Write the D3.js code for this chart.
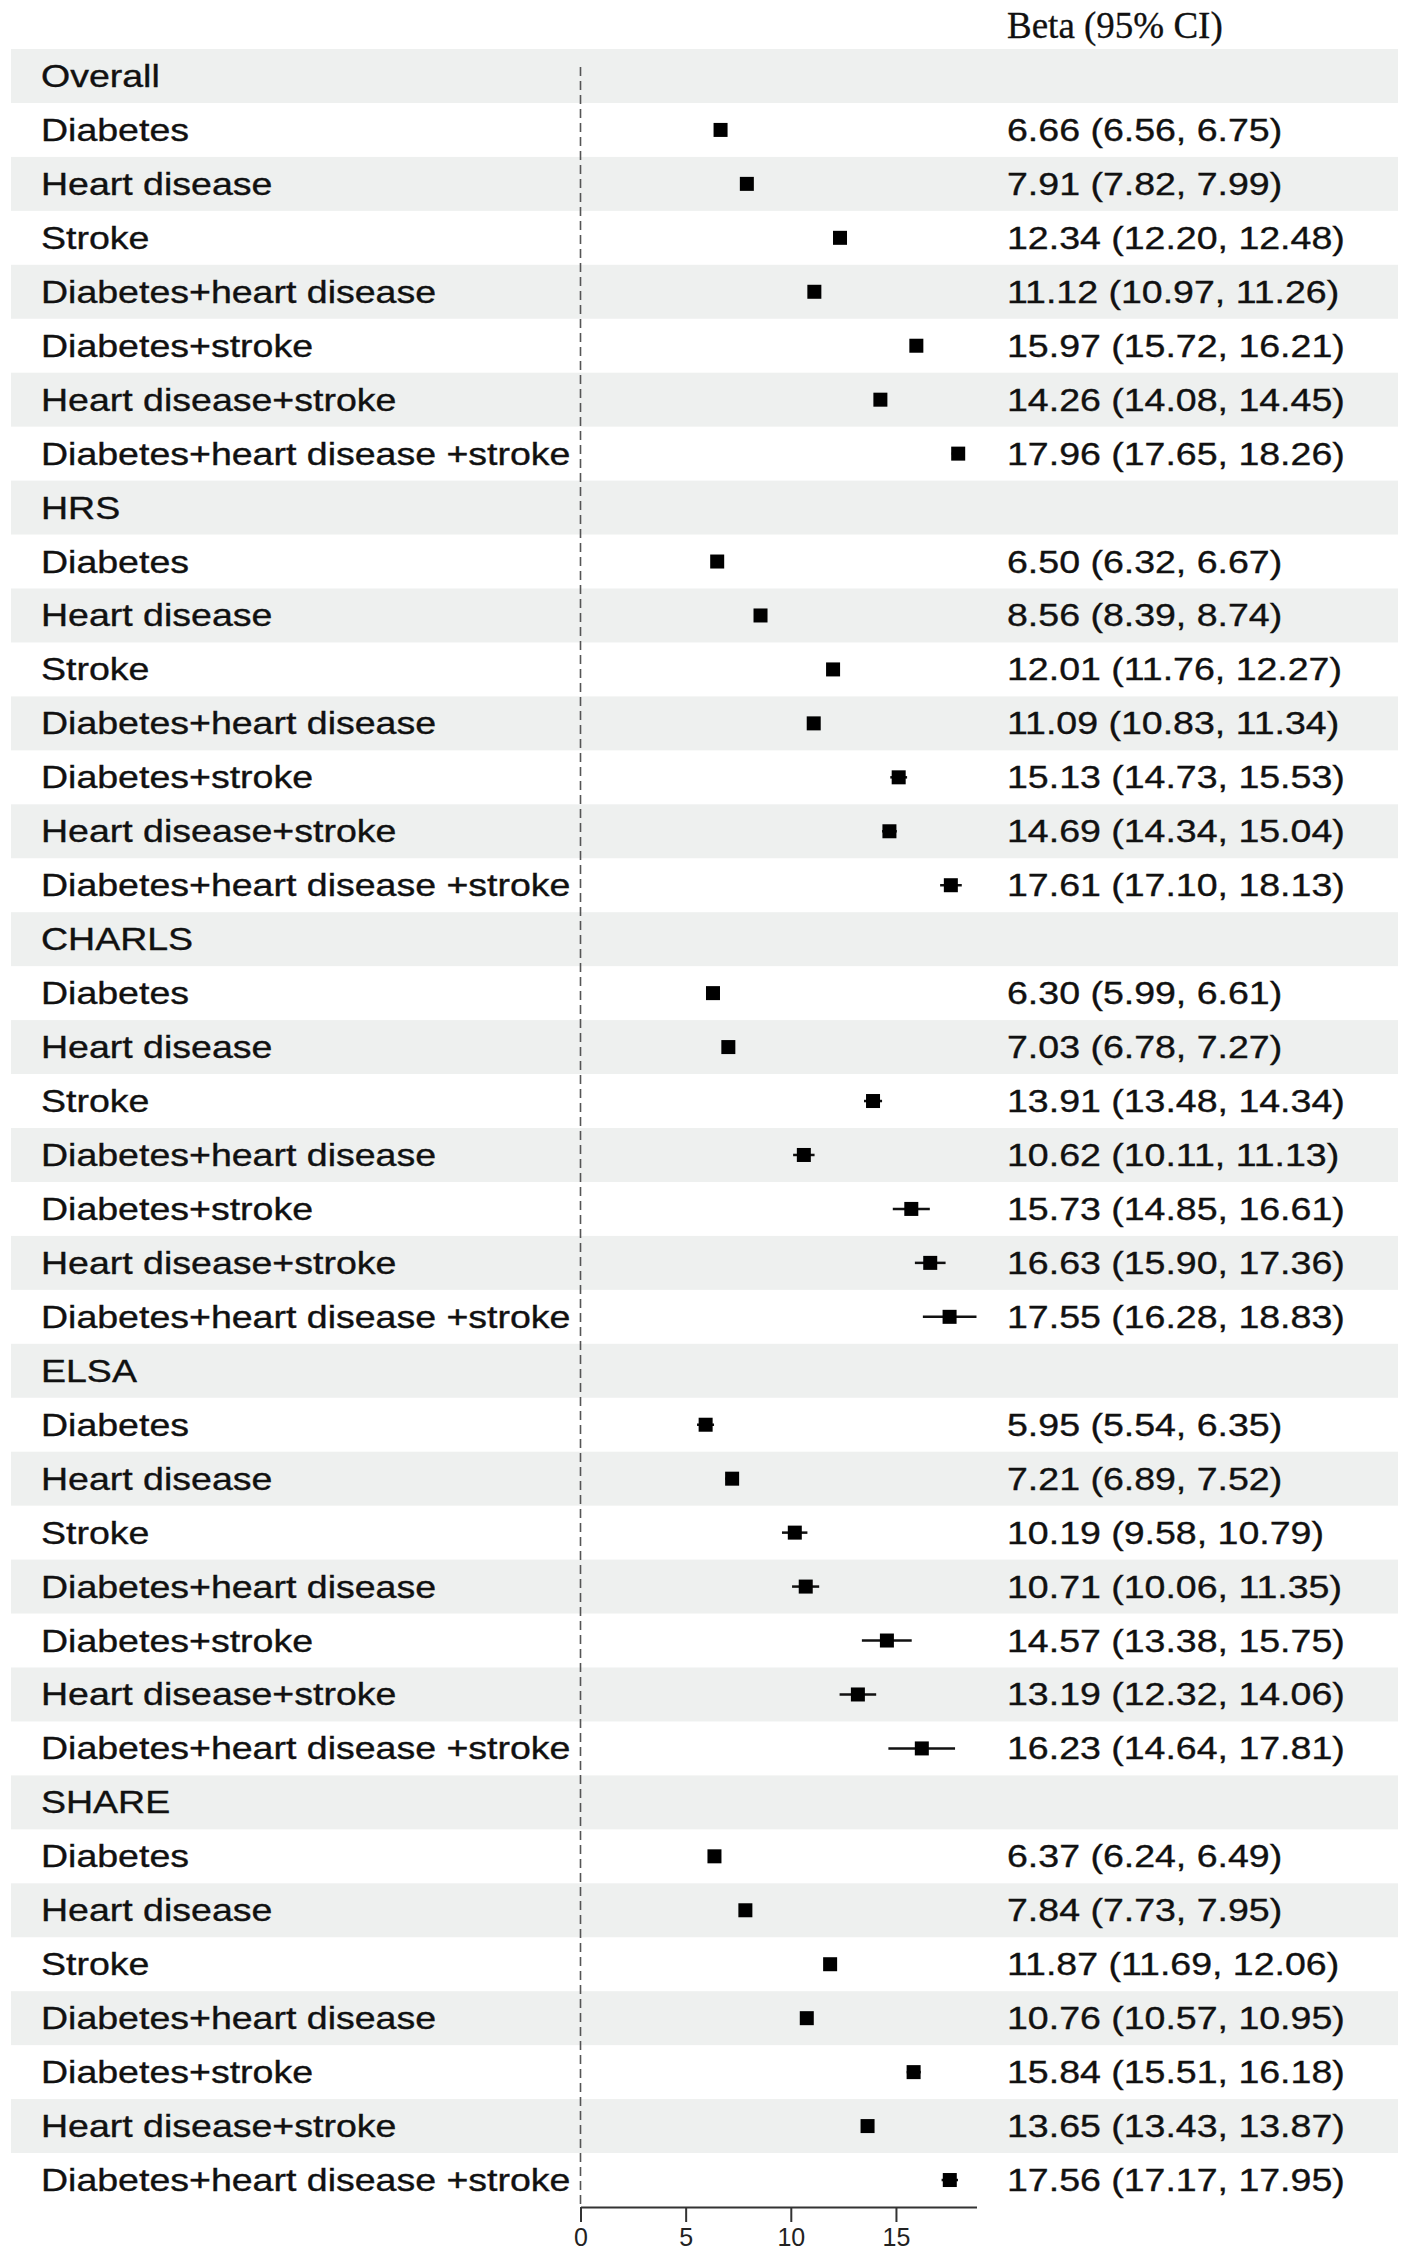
<!DOCTYPE html>
<html>
<head>
<meta charset="utf-8">
<script src="https://cdn.jsdelivr.net/npm/d3@7"></script>
<style>
  body { margin: 0; background: #fff; }
  svg { display: block; }
</style>
</head>
<body>
<div id="chart"></div>
<script>
// cohorts and conditions, in the order they are listed
const cohorts = ["Overall", "HRS", "CHARLS", "ELSA", "SHARE"];
const conditions = [
  "Diabetes",
  "Heart disease",
  "Stroke",
  "Diabetes+heart disease",
  "Diabetes+stroke",
  "Heart disease+stroke",
  "Diabetes+heart disease +stroke",
];

// one row per cohort, one value per condition
const beta = [
  [6.66, 7.91, 12.34, 11.12, 15.97, 14.26, 17.96],
  [6.50, 8.56, 12.01, 11.09, 15.13, 14.69, 17.61],
  [6.30, 7.03, 13.91, 10.62, 15.73, 16.63, 17.55],
  [5.95, 7.21, 10.19, 10.71, 14.57, 13.19, 16.23],
  [6.37, 7.84, 11.87, 10.76, 15.84, 13.65, 17.56],
];
const lower = [
  [6.56, 7.82, 12.20, 10.97, 15.72, 14.08, 17.65],
  [6.32, 8.39, 11.76, 10.83, 14.73, 14.34, 17.10],
  [5.99, 6.78, 13.48, 10.11, 14.85, 15.90, 16.28],
  [5.54, 6.89, 9.58, 10.06, 13.38, 12.32, 14.64],
  [6.24, 7.73, 11.69, 10.57, 15.51, 13.43, 17.17],
];
const upper = [
  [6.75, 7.99, 12.48, 11.26, 16.21, 14.45, 18.26],
  [6.67, 8.74, 12.27, 11.34, 15.53, 15.04, 18.13],
  [6.61, 7.27, 14.34, 11.13, 16.61, 17.36, 18.83],
  [6.35, 7.52, 10.79, 11.35, 15.75, 14.06, 17.81],
  [6.49, 7.95, 12.06, 10.95, 16.18, 13.87, 17.95],
];
const xTicks = [0, 5, 10, 15];

const width = 1418;
const height = 2258;

// flatten into rows: a header row per cohort, then its conditions
const rows = [];
cohorts.forEach((c, gi) => {
  rows.push({ label: c, header: true });
  conditions.forEach((name, ci) => {
    rows.push({
      label: name,
      header: false,
      b: beta[gi][ci],
      lo: lower[gi][ci],
      hi: upper[gi][ci],
    });
  });
});
rows.forEach((d, i) => (d.i = i));

const svg = d3
  .select("#chart")
  .append("svg")
  .attr("width", width)
  .attr("height", height)
  .attr("viewBox", [0, 0, width, height]);

svg.append("rect").attr("width", width).attr("height", height).attr("fill", "#fff");

const y = d3
  .scaleBand()
  .domain(rows.map((d) => d.i))
  .range([49, 2207])
  .padding(0);

const xMax = d3.max(upper.flat());
const x = d3.scaleLinear().domain([0, xMax]).range([580.5, 580.5 + xMax * 21.03]);

// zebra bands
svg
  .append("g")
  .selectAll("rect")
  .data(rows.filter((d) => d.i % 2 === 0))
  .enter()
  .append("rect")
  .attr("x", 11)
  .attr("y", (d) => y(d.i))
  .attr("width", 1398 - 11)
  .attr("height", y.bandwidth())
  .attr("fill", "#eef0ef");

// reference line at zero
svg
  .append("line")
  .attr("x1", x(0))
  .attr("x2", x(0))
  .attr("y1", 67)
  .attr("y2", 2207)
  .attr("stroke", "#555")
  .attr("stroke-width", 1.6)
  .attr("stroke-dasharray", "9,5");

// header of the estimate column
svg
  .append("text")
  .attr("x", 1007)
  .attr("y", 38)
  .attr("font-family", "'Liberation Serif', 'Times New Roman', serif")
  .attr("font-size", 37)
  .attr("fill", "#111")
  .attr("stroke", "#111")
  .attr("stroke-width", 0.3)
  .text("Beta (95% CI)");

// labels are drawn a bit wider than the font, like the original
const stretch = 1.23;
const labelFont = "'Liberation Sans', Arial, Helvetica, sans-serif";
const baseShift = 11;

svg
  .append("g")
  .selectAll("text")
  .data(rows)
  .enter()
  .append("text")
  .attr("transform", (d) => `translate(41,${y(d.i) + y.bandwidth() / 2 + baseShift}) scale(${stretch},1)`)
  .attr("font-family", labelFont)
  .attr("font-size", 30.5)
  .attr("fill", "#111")
  .attr("stroke", "#111")
  .attr("stroke-width", 0.35)
  .text((d) => d.label);

const est = rows.filter((d) => !d.header);
const fmt = d3.format(".2f");

svg
  .append("g")
  .selectAll("text")
  .data(est)
  .enter()
  .append("text")
  .attr("transform", (d) => `translate(1007,${y(d.i) + y.bandwidth() / 2 + baseShift}) scale(${stretch},1)`)
  .attr("font-family", labelFont)
  .attr("font-size", 30.5)
  .attr("fill", "#111")
  .attr("stroke", "#111")
  .attr("stroke-width", 0.35)
  .text((d) => `${fmt(d.b)} (${fmt(d.lo)}, ${fmt(d.hi)})`);

// confidence intervals
svg
  .append("g")
  .selectAll("line")
  .data(est)
  .enter()
  .append("line")
  .attr("x1", (d) => x(d.lo))
  .attr("x2", (d) => x(d.hi))
  .attr("y1", (d) => y(d.i) + y.bandwidth() / 2)
  .attr("y2", (d) => y(d.i) + y.bandwidth() / 2)
  .attr("stroke", "#111")
  .attr("stroke-width", 2.5);

// point estimates
const sq = 14;
svg
  .append("g")
  .selectAll("rect")
  .data(est)
  .enter()
  .append("rect")
  .attr("x", (d) => x(d.b) - sq / 2)
  .attr("y", (d) => y(d.i) + y.bandwidth() / 2 - sq / 2)
  .attr("width", sq)
  .attr("height", sq)
  .attr("fill", "#000");

// x axis
const axis = svg
  .append("g")
  .attr("transform", "translate(0,2207)")
  .call(d3.axisBottom(x).tickValues(xTicks).tickSize(15).tickSizeOuter(0).tickPadding(6));

axis.select(".domain").attr("stroke", "#333").attr("stroke-width", 2);
axis.selectAll(".tick line").attr("stroke", "#333").attr("stroke-width", 2);
axis
  .selectAll(".tick text")
  .attr("font-family", labelFont)
  .attr("font-size", 25)
  .attr("fill", "#222");
</script>
</body>
</html>
